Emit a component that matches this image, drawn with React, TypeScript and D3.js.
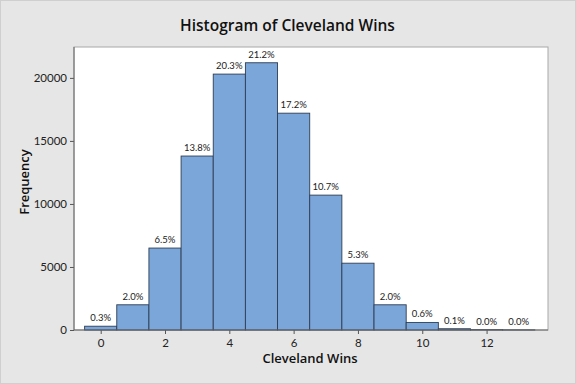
import React, { useEffect, useRef } from 'react';
import * as d3 from 'd3';

const bins = [0, 1, 2, 3, 4, 5, 6, 7, 8, 9, 10, 11, 12, 13];
const counts = [300, 2000, 6500, 13800, 20300, 21200, 17200, 10700, 5300, 2000, 600, 100, 25, 8];
const pctLabels = ['0.3%', '2.0%', '6.5%', '13.8%', '20.3%', '21.2%', '17.2%', '10.7%', '5.3%', '2.0%', '0.6%', '0.1%', '0.0%', '0.0%'];
const xTicks = [0, 2, 4, 6, 8, 10, 12];
const yTicks = [0, 5000, 10000, 15000, 20000];

const W = 576;
const H = 384;
const FONT = 'Lato, "Open Sans", sans-serif';
const TITLE_FONT = '"Open Sans", Lato, sans-serif';

const App: React.FC = () => {
  const svgRef = useRef<SVGSVGElement>(null);

  useEffect(() => {
    if (!svgRef.current) return;
    const svg = d3.select(svgRef.current);
    svg.selectAll('*').remove();

    const plot = { left: 74, right: 548, top: 47, bottom: 330 };

    const x = d3.scaleLinear().domain([-0.83, 13.91]).range([plot.left, plot.right]);
    const y = d3.scaleLinear().domain([0, 22450]).range([plot.bottom, plot.top]);

    // background
    svg.append('rect')
      .attr('x', 0.5).attr('y', 0.5)
      .attr('width', W - 1).attr('height', H - 1)
      .attr('fill', '#e6e6e6')
      .attr('stroke', '#cfcfcf');

    svg.append('rect')
      .attr('x', plot.left).attr('y', plot.top)
      .attr('width', plot.right - plot.left)
      .attr('height', plot.bottom - plot.top)
      .attr('fill', '#ffffff')
      .attr('stroke', '#a8a8a8');

    // title
    svg.append('text')
      .attr('x', 287.5).attr('y', 31)
      .attr('text-anchor', 'middle')
      .attr('font-family', TITLE_FONT)
      .attr('font-weight', 600)
      .attr('font-size', 15.5)
      .attr('fill', '#111')
      .text('Histogram of Cleveland Wins');

    // bars
    svg.append('g')
      .selectAll('rect')
      .data(bins)
      .join('rect')
      .attr('x', d => x(d - 0.5))
      .attr('width', d => x(d + 0.5) - x(d - 0.5))
      .attr('y', (d, i) => y(counts[i]))
      .attr('height', (d, i) => y(0) - y(counts[i]))
      .attr('fill', '#7ba6da')
      .attr('stroke', '#2f3d52')
      .attr('stroke-width', 0.9);

    // percent labels
    svg.append('g')
      .selectAll('text')
      .data(bins)
      .join('text')
      .attr('x', d => x(d))
      .attr('y', (d, i) => y(counts[i]) - 5)
      .attr('text-anchor', 'middle')
      .attr('font-family', FONT)
      .attr('font-size', 9.5)
      .attr('fill', '#222')
      .text((d, i) => pctLabels[i]);

    // x axis
    const xAxis = svg.append('g')
      .attr('transform', `translate(0,${plot.bottom})`)
      .call(d3.axisBottom(x).tickValues(xTicks).tickSize(4).tickPadding(5).tickFormat(d => String(d)));
    xAxis.select('.domain').remove();
    xAxis.selectAll('line').attr('stroke', '#555');
    xAxis.selectAll('text').attr('font-family', FONT).attr('font-size', 11.5).attr('fill', '#222');

    // y axis
    const yAxis = svg.append('g')
      .attr('transform', `translate(${plot.left},0)`)
      .call(d3.axisLeft(y).tickValues(yTicks).tickSize(4).tickPadding(3).tickFormat(d => String(d)));
    yAxis.select('.domain').remove();
    yAxis.selectAll('line').attr('stroke', '#555');
    yAxis.selectAll('text').attr('font-family', FONT).attr('font-size', 11.5).attr('fill', '#222');

    svg.append('line')
      .attr('x1', plot.left).attr('x2', plot.right)
      .attr('y1', plot.bottom).attr('y2', plot.bottom)
      .attr('stroke', '#666');
    svg.append('line')
      .attr('x1', plot.left).attr('x2', plot.left)
      .attr('y1', plot.top).attr('y2', plot.bottom)
      .attr('stroke', '#666');

    // axis titles
    svg.append('text')
      .attr('x', 310).attr('y', 363)
      .attr('text-anchor', 'middle')
      .attr('font-family', TITLE_FONT)
      .attr('font-weight', 600)
      .attr('font-size', 13)
      .attr('fill', '#111')
      .text('Cleveland Wins');

    svg.append('text')
      .attr('transform', `translate(29,182) rotate(-90)`)
      .attr('text-anchor', 'middle')
      .attr('font-family', TITLE_FONT)
      .attr('font-weight', 600)
      .attr('font-size', 13)
      .attr('fill', '#111')
      .text('Frequency');
  }, []);

  return (
    <div style={{ position: 'absolute', left: 0, top: 0 }}>
      <svg ref={svgRef} width={W} height={H} style={{ display: 'block' }} />
    </div>
  );
};

export default App;
